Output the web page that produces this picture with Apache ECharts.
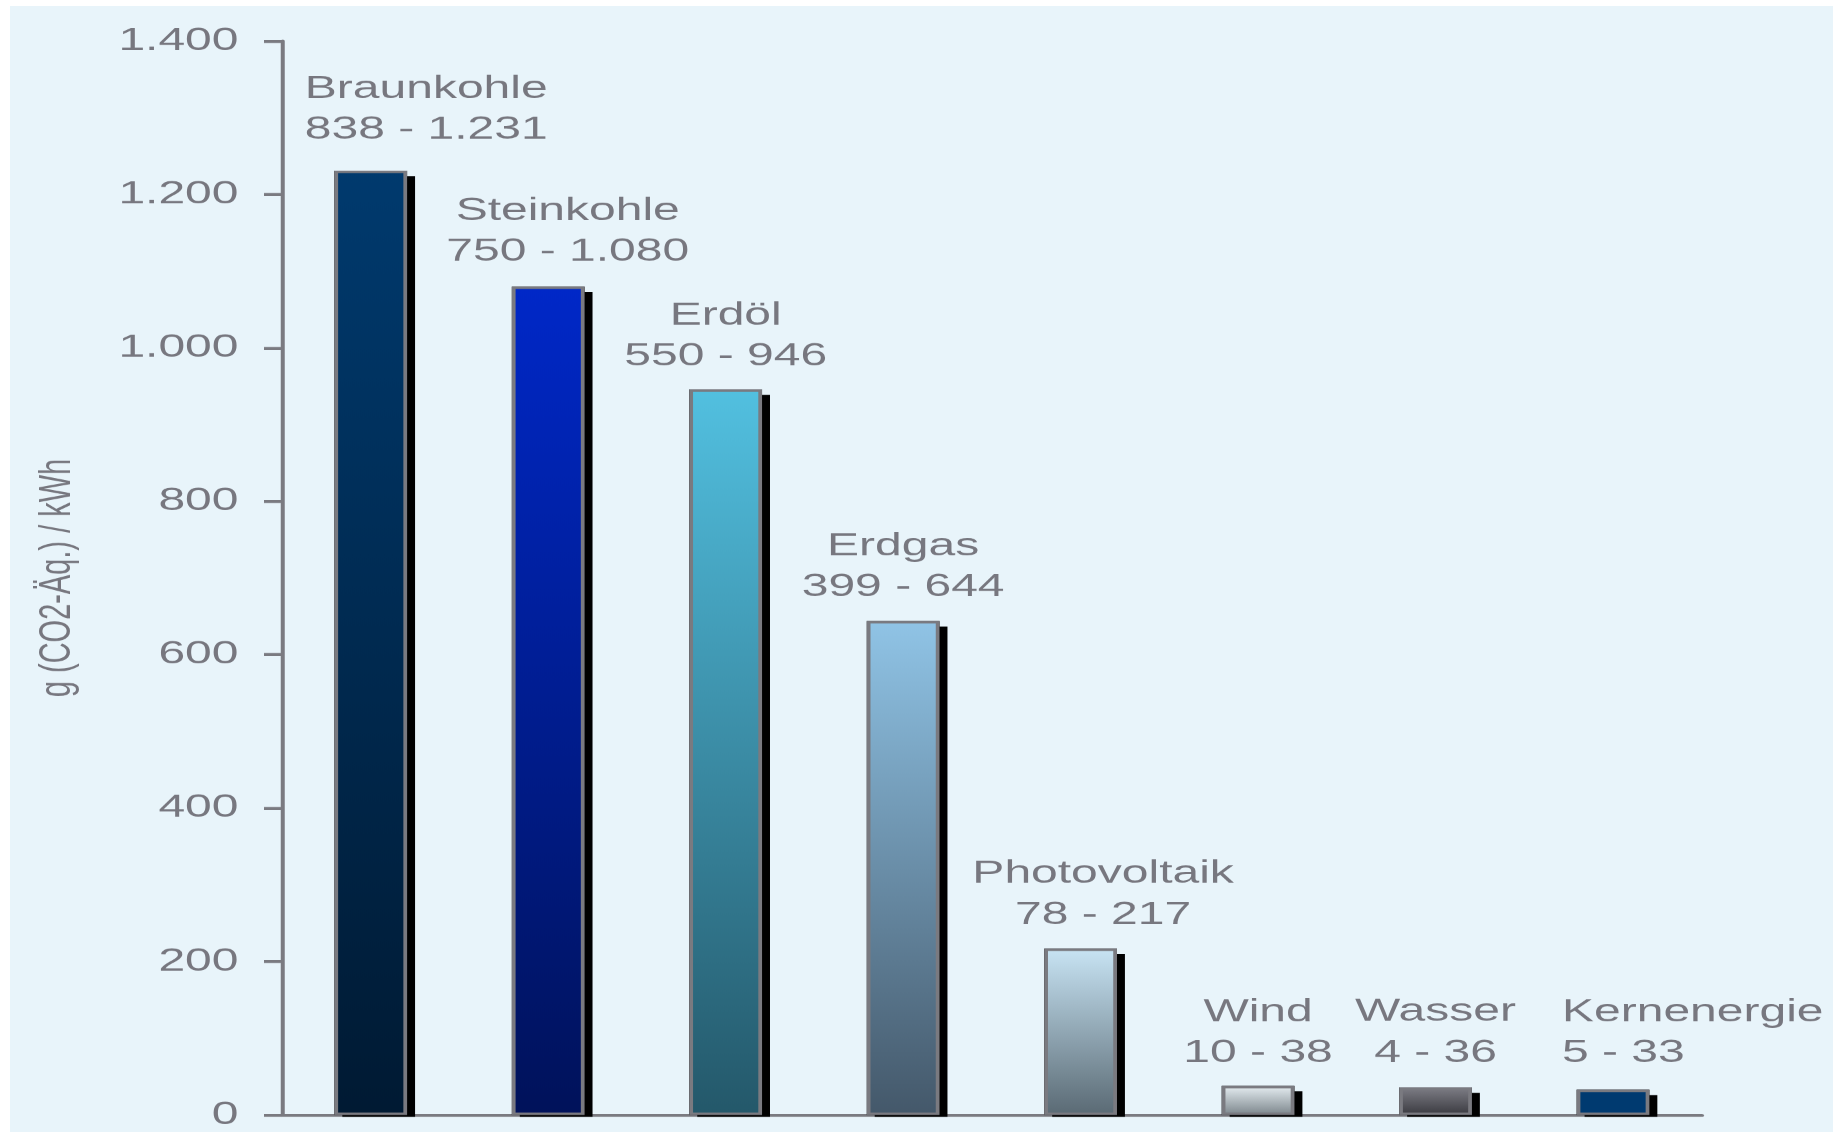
<!DOCTYPE html>
<html>
<head>
<meta charset="utf-8">
<title>Treibhausgas-Emissionen je kWh</title>
<script src="https://cdn.jsdelivr.net/npm/echarts@6/dist/echarts.min.js"></script>
<style>
  html, body { margin: 0; padding: 0; background: #ffffff; overflow: hidden; width: 1833px; height: 1132px; }
  #panel { position: absolute; left: 10px; top: 6px; right: 0; bottom: 0; background: #e8f4fa; }
  /* the chart is laid out on a narrower canvas and widened 1.5x */
  #chart { position: absolute; left: 0; top: 0; width: 1222px; height: 1132px;
           transform: scaleX(1.5); transform-origin: 0 0; }
</style>
</head>
<body>
<div id="panel"></div>
<div id="chart"></div>
<script>
// Emissionen in g CO2-Äquivalent pro kWh (Spannweite je Energieträger)
const categories = ['Braunkohle', 'Steinkohle', 'Erdöl', 'Erdgas', 'Photovoltaik', 'Wind', 'Wasser', 'Kernenergie'];
const lowValues  = [838, 750, 550, 399, 78, 10, 4, 5];
const highValues = [1231, 1080, 946, 644, 217, 38, 36, 33];
const yTicks = [0, 200, 400, 600, 800, 1000, 1200, 1400];
const yAxisTitle = 'g (CO2-Äq.) / kWh';

// bar fills, top colour -> bottom colour
const barGradients = [
  ['#003a6e', '#001a33'],
  ['#0028c8', '#00125a'],
  ['#52c0e0', '#24586a'],
  ['#90c4e6', '#44586a'],
  ['#c8e4f4', '#5a6a74'],
  ['#e6eef2', '#7c868c'],
  ['#7e7e86', '#3a3a40'],
  ['#003a70', '#003a70']
];
// label placement tweaks: [horizontal shift, gap above bar, alignment]
const labelPlacement = [
  [37, 20, 'center'],
  [13, 14, 'center'],
  [0, 12, 'center'],
  [0, 13, 'center'],
  [15, 13, 'center'],
  [0, 12, 'center'],
  [0, 14, 'center'],
  [-34, 16, 'left']
];

const textGray = '#77777f';
const lineGray = '#7a7a80';
const font = 'Liberation Sans';
const barW = 48.5;

function fmt(n) {
  return String(n).replace(/\B(?=(\d{3})+(?!\d))/g, '.');
}

function fillOf(i) {
  return new echarts.graphic.LinearGradient(0, 0, 0, 1, [
    { offset: 0, color: barGradients[i][0] },
    { offset: 1, color: barGradients[i][1] }
  ]);
}

// visible bars: gradient fill, grey frame, range label
const barData = highValues.map((v, i) => ({
  value: v,
  itemStyle: { color: fillOf(i) },
  label: {
    offset: [labelPlacement[i][0], 0],
    distance: labelPlacement[i][1],
    align: labelPlacement[i][2]
  }
}));

const chart = echarts.init(document.getElementById('chart'), null, { renderer: 'canvas', devicePixelRatio: 1.5 });

chart.setOption({
  animation: false,
  backgroundColor: 'transparent',
  grid: { left: 188, top: 41, width: 946.5, bottom: 17, containLabel: false },
  xAxis: {
    type: 'category',
    data: categories,
    axisLine: { show: true, lineStyle: { color: lineGray, width: 3 } },
    axisTick: { show: false },
    axisLabel: { show: false },
    splitLine: { show: false }
  },
  yAxis: {
    type: 'value',
    min: yTicks[0],
    max: yTicks[yTicks.length - 1],
    interval: yTicks[1] - yTicks[0],
    name: yAxisTitle,
    nameLocation: 'middle',
    nameRotate: 90,
    nameGap: 135,
    nameTextStyle: { fontFamily: font, fontSize: 29, color: textGray },
    axisLine: { show: true, lineStyle: { color: lineGray, width: 2.67 } },
    axisTick: { show: true, inside: false, length: 12, lineStyle: { color: lineGray, width: 3 } },
    axisLabel: {
      margin: 29,
      fontFamily: font,
      fontSize: 32,
      color: textGray,
      formatter: v => fmt(v)
    },
    splitLine: { show: false }
  },
  series: [
    {
      // drop shadow layer: same bars, frameless, casting a hard black shadow
      type: 'bar',
      data: highValues,
      barWidth: barW,
      barGap: '-100%',
      silent: true,
      itemStyle: {
        color: '#000000',
        borderWidth: 0,
        shadowColor: '#000000',
        shadowBlur: 0,
        shadowOffsetX: 5.3,
        shadowOffsetY: 5.5
      },
      label: { show: false }
    },
    {
      type: 'bar',
      data: barData,
      barWidth: barW,
      barGap: '-100%',
      itemStyle: {
        borderColor: lineGray,
        borderWidth: 2.5
      },
      label: {
        show: true,
        position: 'top',
        fontFamily: font,
        fontSize: 32,
        lineHeight: 41,
        color: textGray,
        formatter: p => categories[p.dataIndex] + '\n' + fmt(lowValues[p.dataIndex]) + ' - ' + fmt(highValues[p.dataIndex])
      }
    }
  ],
  graphic: [{
    // keeps the bar shadows from showing below the baseline
    type: 'rect',
    silent: true,
    z: 100,
    shape: { x: 176, y: 1116.8, width: 1100, height: 20 },
    style: { fill: '#e8f4fa' }
  }]
});
</script>
</body>
</html>
